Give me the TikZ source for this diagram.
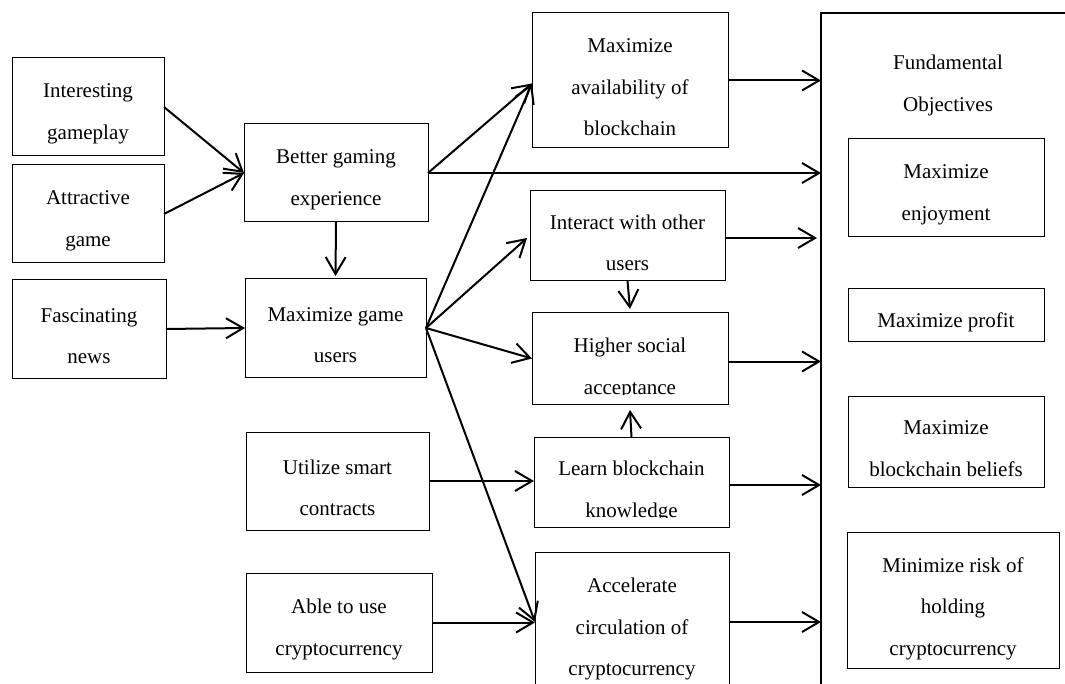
\documentclass[tikz,border=0pt]{standalone}
\usepackage{fontspec}
\setmainfont{Liberation Serif}
\usetikzlibrary{arrows.meta}
\begin{document}
\begin{tikzpicture}[x=1pt,y=-1pt,
  txt/.style={align=center, font=\fontsize{21}{41.5}\selectfont, inner sep=0pt},
  box/.style={draw, line width=1pt, outer sep=0pt, inner sep=0pt},
  lab/.style={label={[txt,yshift=-7pt]center:{#1}}},
  arr/.style={line width=2pt, -{Straight Barb[length=17pt,width=20pt,line width=2pt]}},
  ]
\useasboundingbox (0,0) rectangle (1065,684);
\clip (0,0) rectangle (1065,684);

% left column
\node[box, minimum width=152pt, minimum height=98pt, lab={Interesting\\gameplay}] (int) at (88,107) {};
\node[box, minimum width=152pt, minimum height=98pt, lab={Attractive\\game}] (att) at (88,214) {};
\node[box, minimum width=154pt, minimum height=98pt, lab={Fascinating\\news}] (fasc) at (89,329) {};

% second column
\node[box, minimum width=184pt, minimum height=98pt, lab={Better gaming\\experience}] (better) at (336,173) {};
\node[box, minimum width=181pt, minimum height=98pt, lab={Maximize game\\users}] (mgu) at (335.5,328) {};
\node[box, minimum width=183pt, minimum height=98pt, lab={Utilize smart\\contracts}] (util) at (337.5,481) {};
\node[box, minimum width=186pt, minimum height=99pt, lab={Able to use\\cryptocurrency}] (able) at (339,622.5) {};

% third column
\node[box, minimum width=196pt, minimum height=135pt, lab={Maximize\\availability of\\blockchain}] (avail) at (630,80.5) {};
\node[box, minimum width=195pt, minimum height=90pt, lab={Interact with other\\users}] (inter) at (627.5,236) {};
\node[box, minimum width=196pt, minimum height=91pt,
  path picture={\clip ([yshift=10pt]path picture bounding box.south west) rectangle (path picture bounding box.north east);
    \node[txt] at ([yshift=-10pt]path picture bounding box.center) {Higher social\\acceptance};}] (higher) at (630,358.5) {};
\node[box, minimum width=195pt, minimum height=90pt,
  path picture={\clip ([yshift=10pt]path picture bounding box.south west) rectangle (path picture bounding box.north east);
    \node[txt] at ([yshift=-9.5pt]path picture bounding box.center) {Learn blockchain\\knowledge};}] (learn) at (631.5,482) {};
\node[box, minimum width=194pt, minimum height=140pt, lab={Accelerate\\circulation of\\cryptocurrency}] (acc) at (632,622) {};

% fundamental objectives container
\node[draw, line width=2pt, outer sep=0pt, inner sep=0pt, minimum width=300pt, minimum height=720pt, anchor=north west] (fo) at (821,13) {};
\node[txt] (fotitle) at (948,85.5) {Fundamental\\Objectives};
\node[box, minimum width=196pt, minimum height=98pt, lab={Maximize\\enjoyment}] (enjoy) at (946,188) {};
\node[box, minimum width=196pt, minimum height=53pt, lab={Maximize profit}] (profit) at (946,315.5) {};
\node[box, minimum width=196pt, minimum height=91pt, lab={Maximize\\blockchain beliefs}] (beliefs) at (946,441.5) {};
\node[box, minimum width=212pt, minimum height=136pt, label={[txt,yshift=-8.5pt]center:{Minimize risk of\\holding\\cryptocurrency}}] (risk) at (953,600) {};

% connectors
\draw[arr] (int.east) -- (better.west);
\draw[arr] (att.east) -- (better.west);
\draw[arr] (better.south) -- ([yshift=3pt]mgu.north);
\draw[arr] (fasc.east) -- (mgu.west);
\draw[arr] (better.east) -- ([yshift=-3pt]avail.west);
\draw[arr] (better.east) -- (better.east -| fo.west);
\draw[arr] (mgu.east) -- ([yshift=-3pt]avail.west);
\draw[arr] (mgu.east) -- ([xshift=-3pt,yshift=-2pt]inter.west);
\draw[arr] (mgu.east) -- (higher.west);
\draw[arr] (mgu.east) -- (acc.west);
\draw[arr] (inter.south) -- ([yshift=4pt]higher.north);
\draw[arr] (learn.north) -- ([yshift=-6pt]higher.south);
\draw[arr] (util.east) -- (util.east -| learn.west);
\draw[arr] (able.east) -- (able.east -| acc.west);

\draw[arr] (avail.east) -- (avail.east -| fo.west);
\draw[arr] ([yshift=-2pt]inter.east) -- ([yshift=-2pt,xshift=-4pt]inter.east -| fo.west);
\draw[arr] ([yshift=-3pt]higher.east) -- ([yshift=-3pt]higher.east -| fo.west);
\draw[arr] ([yshift=-3pt]learn.east) -- ([yshift=-3pt]learn.east -| fo.west);
\draw[arr] (acc.east) -- (acc.east -| fo.west);
\end{tikzpicture}
\end{document}
